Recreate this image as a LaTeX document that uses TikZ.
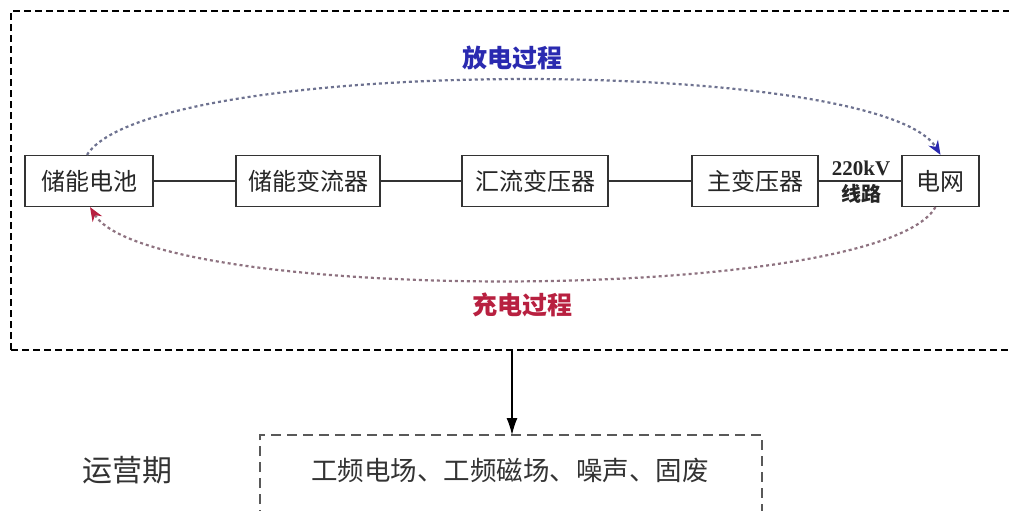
\documentclass[tikz,border=0pt]{standalone}
\usepackage{fontspec}
\newfontfamily\cjk{Noto Sans CJK SC}
\newfontfamily\tnr{Liberation Serif}
\usetikzlibrary{arrows.meta}
\definecolor{dblue}{HTML}{2A2AB0}
\definecolor{dred}{HTML}{B82040}
\definecolor{lineblue}{HTML}{6E7290}
\definecolor{linered}{HTML}{8E7280}
\begin{document}
\begin{tikzpicture}[x=1pt,y=-1pt,
  box/.style={draw=black!80, line width=1.2pt, minimum height=51pt, inner sep=0pt,
    font=\cjk\fontsize{24}{28}\selectfont, text=black!85},
  link/.style={draw=black!80, line width=1.2pt},
  outerdash/.style={draw=black, line width=1.3pt, dash pattern=on 7pt off 4pt},
  innerdash/.style={draw=black!65, line width=2pt, dash pattern=on 10pt off 6pt},
  flowdis/.style={draw=lineblue, line width=2.2pt, dash pattern=on 3pt off 3pt},
  flowchg/.style={draw=linered, line width=2.2pt, dash pattern=on 3pt off 3pt},
  lab/.style={font=\cjk\bfseries\fontsize{25}{28}\selectfont}
]
\clip (0,0) rectangle (1009,511);
\fill[white] (0,0) rectangle (1009,511);
% outer dashed frame
\draw[outerdash] (11,350) -- (11,11) -- (1030,11);
\draw[outerdash] (11,350) -- (1030,350);
\coordinate (outB) at (512,350);
% chain of boxes
\node[box, minimum width=128pt] (bat) at (89,181) {储能电池};
\node[box, minimum width=144pt] (pcs) at (308,181) {储能变流器};
\node[box, minimum width=146pt] (hlb) at (535,181) {汇流变压器};
\node[box, minimum width=126pt] (zb) at (755,181) {主变压器};
\node[box, minimum width=77pt] (grid) at (940.5,181) {电网};
\draw[link] (bat) -- (pcs);
\draw[link] (pcs) -- (hlb);
\draw[link] (hlb) -- (zb);
\draw[link] (zb) -- (grid);
\node[font=\tnr\bfseries\fontsize{21}{24}\selectfont, text=black!85] (kv) at (861,168) {220kV};
\node[font=\cjk\bfseries\fontsize{20}{24}\selectfont, text=black!85] (xl) at (861,194) {线路};
% discharge arc
\draw[flowdis, -{Stealth[length=14pt,width=11pt,color=dblue]}]
  ([xshift=-2pt]bat.north) .. controls (150,55) and (880,55) .. ([xshift=0pt]grid.north);
\node[lab, text=dblue] (dis) at (512,58) {放电过程};
% charge arc
\draw[flowchg, -{Stealth[length=14pt,width=11pt,color=dred]}]
  ([xshift=-5pt]grid.south) .. controls (880,305) and (150,305) .. ([xshift=1pt]bat.south);
\node[lab, text=dred] (chg) at (522,305) {充电过程};
% lower part
\node[font=\cjk\fontsize{30}{34}\selectfont, text=black!80] (yyq) at (127,470) {运营期};
\draw[innerdash] (260,520) -- (260,435) -- (762,435) -- (762,520);
\coordinate (inT) at (512,435);
\node[font=\cjk\fontsize{26.5}{30}\selectfont, text=black!80] (eff) at (510,470) {工频电场、工频磁场、噪声、固废};
\draw[line width=1.3pt, -{Latex[length=17pt,width=11pt]}] (outB) -- (inT);
\end{tikzpicture}
\end{document}
